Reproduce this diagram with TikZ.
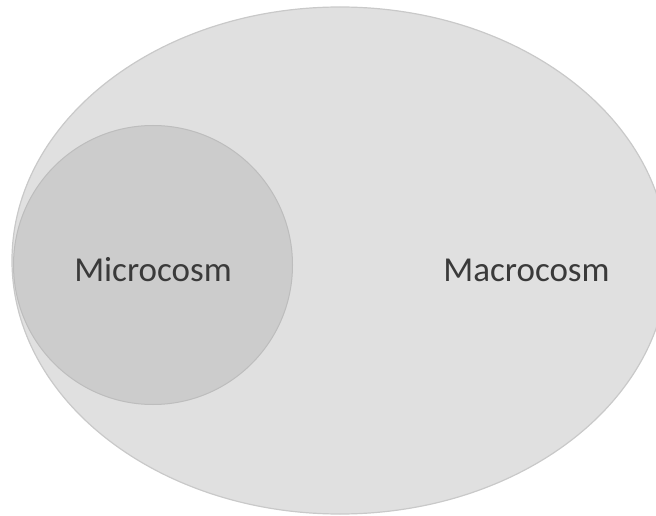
\documentclass[tikz,border=0pt]{standalone}
\usepackage{fontspec}
\setmainfont{Carlito}
\definecolor{macrofill}{HTML}{E0E0E0}
\definecolor{macroline}{HTML}{C9C9C9}
\definecolor{microfill}{HTML}{CCCCCC}
\definecolor{microline}{HTML}{BDBDBD}
\definecolor{labeltext}{HTML}{3A3A3A}
\begin{document}
\begin{tikzpicture}[x=1pt,y=-1pt,
  label/.style={font=\fontsize{35}{40}\selectfont, text=labeltext, inner sep=0pt, anchor=base}]
\useasboundingbox (0,0) rectangle (656,516);
% outer region
\fill[macrofill, draw=macroline, line width=1.2pt] (340,260.5) ellipse [x radius=328, y radius=253.5];
% inner region
\fill[microfill, draw=microline, line width=1pt] (153,265) circle [radius=139.5];
\node[label] (micro) at (153,281.5) {Microcosm};
\node[label] (macro) at (526.5,281.5) {Macrocosm};
\end{tikzpicture}
\end{document}
